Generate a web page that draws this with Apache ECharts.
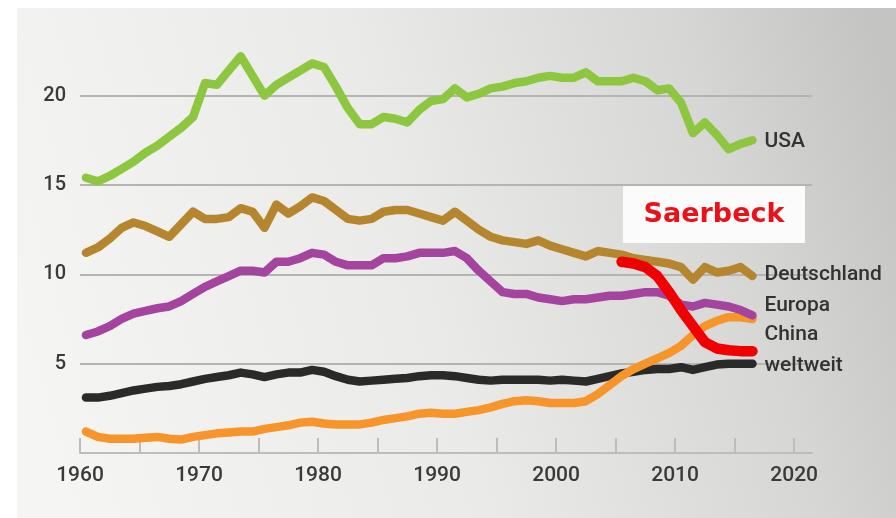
<!DOCTYPE html>
<html>
<head>
<meta charset="utf-8">
<script src="https://cdn.jsdelivr.net/npm/echarts@6/dist/echarts.min.js"></script>
<style>
  html, body { margin: 0; padding: 0; background: #ffffff; }
  #chart { width: 896px; height: 518px; }
</style>
</head>
<body>
<div id="chart"></div>
<script>
// CO2 emissions per capita (t), annual values
const years = [1960,1961,1962,1963,1964,1965,1966,1967,1968,1969,
  1970,1971,1972,1973,1974,1975,1976,1977,1978,1979,
  1980,1981,1982,1983,1984,1985,1986,1987,1988,1989,
  1990,1991,1992,1993,1994,1995,1996,1997,1998,1999,
  2000,2001,2002,2003,2004,2005,2006,2007,2008,2009,
  2010,2011,2012,2013,2014,2015,2016];

const usa = [15.4,15.2,15.5,15.9,16.3,16.8,17.2,17.7,18.2,18.8,
  20.7,20.6,21.4,22.2,21.1,20.0,20.6,21.0,21.4,21.8,
  21.6,20.5,19.3,18.4,18.4,18.8,18.7,18.5,19.2,19.7,
  19.8,20.4,19.9,20.1,20.4,20.5,20.7,20.8,21.0,21.1,
  21.0,21.0,21.3,20.8,20.8,20.8,21.0,20.8,20.3,20.4,
  19.6,17.9,18.5,17.8,17.0,17.3,17.5];

const deutschland = [11.2,11.5,12.0,12.6,12.9,12.7,12.4,12.1,12.8,13.5,
  13.1,13.1,13.2,13.7,13.5,12.6,13.9,13.4,13.8,14.3,
  14.1,13.6,13.1,13.0,13.1,13.5,13.6,13.6,13.4,13.2,
  13.0,13.5,13.0,12.5,12.1,11.9,11.8,11.7,11.9,11.6,
  11.4,11.2,11.0,11.3,11.2,11.1,10.9,10.8,10.7,10.6,
  10.4,9.7,10.4,10.1,10.2,10.4,9.9];

const europa = [6.6,6.8,7.1,7.5,7.8,7.95,8.1,8.2,8.5,8.9,
  9.3,9.6,9.9,10.2,10.2,10.1,10.7,10.7,10.9,11.2,
  11.1,10.7,10.5,10.5,10.5,10.9,10.9,11.0,11.2,11.2,
  11.2,11.3,10.9,10.2,9.6,9.0,8.9,8.9,8.7,8.6,
  8.5,8.6,8.6,8.7,8.8,8.8,8.9,9.0,9.0,8.8,
  8.3,8.2,8.4,8.3,8.2,8.0,7.7];

const china = [1.2,0.9,0.8,0.8,0.8,0.85,0.9,0.8,0.75,0.9,
  1.0,1.1,1.15,1.2,1.2,1.35,1.45,1.55,1.7,1.75,
  1.65,1.6,1.6,1.6,1.7,1.85,1.95,2.05,2.2,2.25,
  2.2,2.2,2.3,2.4,2.55,2.75,2.9,2.95,2.9,2.8,
  2.8,2.8,2.9,3.3,3.8,4.3,4.7,5.0,5.3,5.6,
  6.0,6.6,7.1,7.4,7.6,7.6,7.5];

const weltweit = [3.1,3.1,3.2,3.35,3.5,3.6,3.7,3.75,3.85,4.0,
  4.15,4.25,4.35,4.5,4.4,4.25,4.4,4.5,4.5,4.65,
  4.55,4.3,4.1,4.0,4.05,4.1,4.15,4.2,4.3,4.35,
  4.35,4.3,4.2,4.1,4.05,4.1,4.1,4.1,4.1,4.05,
  4.1,4.05,4.0,4.15,4.3,4.45,4.55,4.65,4.7,4.7,
  4.8,4.65,4.8,4.95,5.0,5.0,5.0];

const saerbeckYears = [2005,2006,2007,2008,2009,2010,2011,2012,2013,2014,2015,2016];
const saerbeck = [10.7,10.6,10.4,9.9,9.0,8.0,7.1,6.2,5.85,5.75,5.7,5.7];

const yTicks = [5, 10, 15, 20];
const xTicks = [1960, 1970, 1980, 1990, 2000, 2010, 2020];

// annual values are plotted at mid-year
const pairs = (ys, vs) => ys.map((y, i) => [y + 0.5, vs[i]]);

const labelFont = "Roboto, 'Liberation Sans', Arial, sans-serif";
const gridColor = '#b4b4b2';

function lineSeries(name, xs, vs, color, width, z, labelOffsetY) {
  return {
    name: name,
    type: 'line',
    data: pairs(xs, vs),
    showSymbol: false,
    symbol: 'none',
    z: z,
    lineStyle: { color: color, width: width, cap: 'round', join: 'round' },
    endLabel: labelOffsetY === null ? { show: false } : {
      show: true,
      formatter: name,
      color: '#333333',
      fontSize: 21,
      fontWeight: 500,
      fontFamily: labelFont,
      distance: 12,
      offset: [0, labelOffsetY]
    }
  };
}

const chart = echarts.init(document.getElementById('chart'), null, { renderer: 'canvas' });

chart.setOption({
  animation: false,
  backgroundColor: '#ffffff',
  graphic: [
    {
      type: 'rect',
      z: -100,
      silent: true,
      shape: { x: 17, y: 8, width: 879, height: 510 },
      style: {
        fill: new echarts.graphic.LinearGradient(0, 0.7, 1, 0.2, [
          { offset: 0, color: '#f5f5f3' },
          { offset: 0.45, color: '#eaeae8' },
          { offset: 0.8, color: '#d6d6d4' },
          { offset: 1, color: '#c4c4c2' }
        ])
      }
    },
    {
      type: 'group',
      z: 100,
      children: [
        {
          type: 'rect',
          shape: { x: 623, y: 185, width: 182, height: 58 },
          style: { fill: '#fbfbfb' }
        },
        {
          type: 'text',
          x: 714, y: 215,
          style: {
            text: 'Saerbeck',
            fill: '#ea1218',
            font: "bold 27px 'DejaVu Sans', sans-serif",
            align: 'center',
            verticalAlign: 'middle'
          }
        }
      ]
    }
  ],
  grid: { left: 80, right: 84, top: 8, bottom: 65, containLabel: false },
  xAxis: {
    type: 'value',
    min: 1960,
    max: 2021.5,
    interval: 5,
    axisLine: { show: true, lineStyle: { color: '#bdbdbb', width: 2 } },
    axisTick: { show: true, inside: true, length: 15, lineStyle: { color: '#bdbdbb', width: 2 } },
    splitLine: { show: false },
    axisLabel: {
      color: '#3a3a3a',
      fontSize: 21,
      fontWeight: 500,
      fontFamily: labelFont,
      margin: 12,
      showMaxLabel: false,
      formatter: v => (xTicks.indexOf(v) >= 0 ? String(v) : '')
    }
  },
  yAxis: {
    type: 'value',
    min: 0,
    max: 24.9,
    interval: 5,
    axisLine: { show: false },
    axisTick: { show: false },
    splitLine: {
      show: true,
      // gridlines at 0..20; the top edge stays open
      lineStyle: {
        color: [gridColor, gridColor, gridColor, gridColor, gridColor, 'rgba(0,0,0,0)'],
        width: 2
      }
    },
    axisLabel: {
      color: '#3a3a3a',
      fontSize: 20,
      fontWeight: 500,
      fontFamily: labelFont,
      margin: 14,
      showMinLabel: false,
      showMaxLabel: false,
      formatter: v => (yTicks.indexOf(v) >= 0 ? String(v) : '')
    }
  },
  series: [
    lineSeries('USA', years, usa, '#8dc63f', 8.5, 3, 2),
    lineSeries('Deutschland', years, deutschland, '#b5862d', 8.5, 4, -1),
    lineSeries('weltweit', years, weltweit, '#2a2a28', 8.5, 5, 2),
    lineSeries('China', years, china, '#f7952b', 8.5, 6, 16),
    lineSeries('Europa', years, europa, '#a4449f', 8.5, 7, -10),
    lineSeries('Saerbeck', saerbeckYears, saerbeck, '#f00000', 10.5, 8, null)
  ]
});
</script>
</body>
</html>
